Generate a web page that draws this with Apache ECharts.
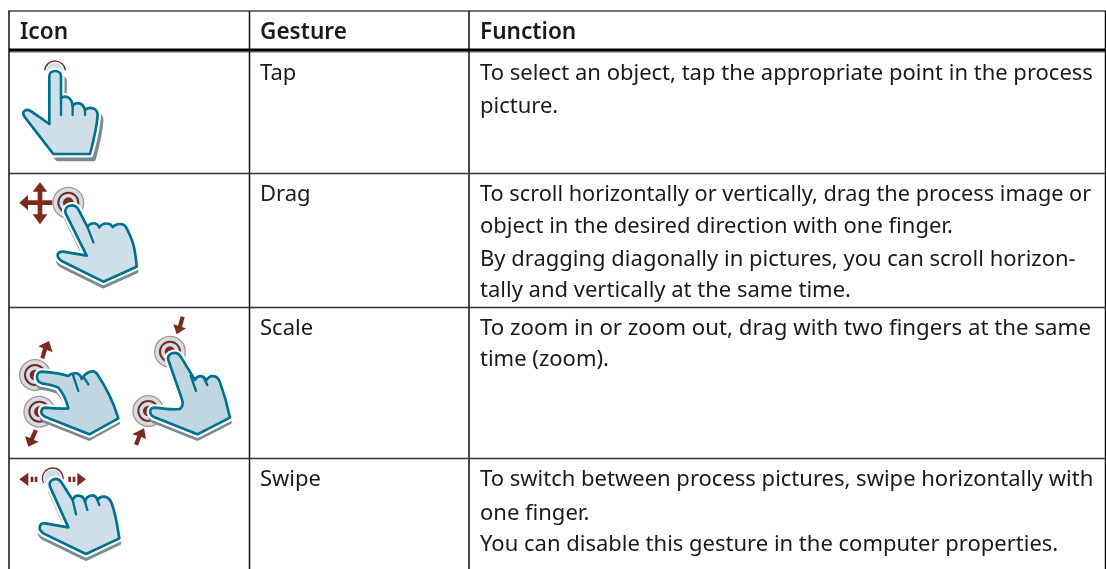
<!DOCTYPE html>
<html>
<head>
<meta charset="utf-8">
<style>
  html, body { margin: 0; padding: 0; background: #fff; }
  #chart { width: 1106px; height: 569px; }
</style>
<script src="https://cdn.jsdelivr.net/npm/echarts@6/dist/echarts.min.js"></script>
</head>
<body>
<div id="chart"></div>
<script>
// table content
var headers = ["Icon", "Gesture", "Function"];
var gestures = ["Tap", "Drag", "Scale", "Swipe"];
var tapLines = ["To select an object, tap the appropriate point in the process", "picture."];
var dragLines = [
  "To scroll horizontally or vertically, drag the process image or",
  "object in the desired direction with one finger.",
  "By dragging diagonally in pictures, you can scroll horizon-",
  "tally and vertically at the same time."
];
var scaleLines = ["To zoom in or zoom out, drag with two fingers at the same", "time (zoom)."];
var swipeLines = [
  "To switch between process pictures, swipe horizontally with",
  "one finger.",
  "You can disable this gesture in the computer properties."
];
var functionLines = [tapLines, dragLines, scaleLines, swipeLines];

// table layout, page pixels on the hidden axes
var colEdges = [9, 249.5, 469];
var rightEdge = 1106;
var tableTop = 11, headerRule = 50, bottomEdge = 569;
var rowRules = [173.5, 307.5, 458.5];
var textX = [20, 260, 480];
var headerY = 33;
var gestureY = [74, 195, 329, 480];
var functionY = [[74, 107], [195, 227, 260, 291], [329, 360], [480, 514, 545]];
// horizontal squeeze for the first lines of each row, the font is a bit off
var lineFit = [[1, 1], [0.987, 1, 1, 1], [1.012, 1], [1, 1, 1]];

var FONT = '"Noto Sans", sans-serif';
var TEXT_SIZE = 22, HEAD_SIZE = 22.6;
var INK = "#1a1a1a";

var BLUE = "#00708f", FILL = "#cfdfea", FILL2 = "#c0d7e2", RED = "#7b2a1e", SHADOW = "#7b8a91";

// icon outlines, traced at 3x from crop origin
var hand1 = "M148 372 L148 228 C148 208 183 208 183 228 L183 295 C195 285 215 290 218 318 C228 303 250 308 255 330 C270 318 293 325 293 345 C290 385 280 425 270 462 L160 462 L75 352 C62 335 78 322 95 335 Z";
var hand1Lines = "M183 295 L183 345 M218 318 L218 345 M255 330 L255 345";
var hand2 = "M260 272 L197 145 C190 122 222 112 235 133 L262 185 C272 172 290 170 298 187 C308 172 330 172 338 186 C350 175 372 172 380 190 C395 220 405 240 410 305 L310 350 L185 288 C165 275 172 258 190 260 Z";
var hand2Lines = "M262 185 L280 232";
var hand3a = "M125 200 C150 202 180 205 205 213 C215 203 240 198 245 222 C255 205 280 188 292 208 C320 250 340 290 355 340 L268 388 L135 335 C118 325 122 308 138 308 C160 310 185 312 205 310 C200 290 190 265 175 248 C160 240 140 238 125 235 C105 228 108 200 125 200 Z";
var hand3aLines = "M218 207 L235 258 M250 215 L265 238";
var hand3b = "M505 165 C498 145 530 135 542 155 L585 225 C592 210 612 208 618 228 C628 208 652 208 660 232 C672 265 682 300 690 338 L592 388 L460 335 C445 325 448 308 465 308 C490 310 520 315 540 312 C552 300 548 290 545 280 Z";
var hand3bLines = "M572 212 L588 258 M612 220 L622 240";
var hand4 = "M205 232 L150 110 C142 88 172 78 185 98 L218 150 C225 132 250 132 255 155 C262 130 288 132 292 150 C302 135 325 135 335 160 C348 195 352 230 358 265 L258 312 L130 250 C112 238 118 218 135 220 Z";
var hand4Lines = "M218 150 L228 193 M255 155 L262 180 M292 150 L298 165";

var crossArrow = "M120 52 L142 80 L127 80 L127 106 L157 106 L157 120 L127 120 L127 148 L142 148 L120 178 L98 148 L113 148 L113 120 L84 120 L84 136 L58 113 L84 90 L84 106 L113 106 L113 80 L98 80 Z";
var scaleArrows = "M147 108 L158 142 L141 135 L133 162 L121 158 L129 130 L115 124 Z"
  + " M85 425 L75 393 L90 399 L102 373 L113 378 L102 405 L116 410 Z"
  + " M530 88 L558 70 L546 66 L554 37 L542 34 L534 62 L520 58 Z"
  + " M432 370 L438 402 L424 396 L414 422 L402 417 L412 392 L396 388 Z";
var swipeArrows = "M58 88 L85 68 L85 108 Z M92 80 L100 80 L100 96 L92 96 Z M104 80 L112 80 L112 96 L104 96 Z"
  + " M258 88 L232 68 L232 108 Z M205 80 L213 80 L213 96 L205 96 Z M218 80 L226 80 L226 96 L218 96 Z";

function rings(cx, cy) {
  return [
    { type: "circle", shape: { cx: cx, cy: cy, r: 46 }, style: { fill: FILL, stroke: "#bb8f88", lineWidth: 4 } },
    { type: "circle", shape: { cx: cx, cy: cy, r: 30 }, style: { fill: FILL, stroke: RED, lineWidth: 6 } },
    { type: "circle", shape: { cx: cx, cy: cy, r: 16 }, style: { fill: RED } }
  ];
}

function hand(d, inner, fill, dx, dy) {
  return [
    { type: "path", shape: { pathData: d }, x: dx, y: dy, style: { fill: SHADOW, stroke: SHADOW, lineWidth: 11, lineJoin: "round" } },
    { type: "path", shape: { pathData: d }, style: { fill: "#fff", stroke: "#fff", lineWidth: 21, lineJoin: "round" } },
    { type: "path", shape: { pathData: d }, style: { fill: fill, stroke: BLUE, lineWidth: 8, lineJoin: "round" } },
    { type: "path", shape: { pathData: inner }, style: { fill: "none", stroke: BLUE, lineWidth: 7, lineCap: "round" } }
  ];
}

// crop origin and drawing per icon
var icons = [
  { y: 0, draw: function () {
    return [
      { type: "arc", shape: { cx: 165, cy: 214, r: 31, startAngle: Math.PI * 1.03, endAngle: Math.PI * 1.97 }, style: { fill: "none", stroke: RED, lineWidth: 4 } },
      { type: "circle", shape: { cx: 165, cy: 214, r: 25 }, style: { fill: FILL } }
    ].concat(hand(hand1, hand1Lines, FILL, 12, 16));
  } },
  { y: 165, draw: function () {
    return [{ type: "path", shape: { pathData: crossArrow }, style: { fill: RED } }]
      .concat(rings(205, 113), hand(hand2, hand2Lines, FILL, 0, 15));
  } },
  { y: 305, draw: function () {
    return [{ type: "path", shape: { pathData: scaleArrows }, style: { fill: RED } }]
      .concat(rings(105, 210), rings(118, 320), rings(510, 140), rings(445, 318),
        hand(hand3a, hand3aLines, FILL2, 0, 14), hand(hand3b, hand3bLines, FILL2, 0, 14));
  } },
  { y: 450, draw: function () {
    return [
      { type: "path", shape: { pathData: swipeArrows }, style: { fill: RED } },
      { type: "arc", shape: { cx: 158, cy: 85, r: 31, startAngle: Math.PI * 0.85, endAngle: Math.PI * 2.15 }, style: { fill: "none", stroke: RED, lineWidth: 4 } },
      { type: "circle", shape: { cx: 158, cy: 85, r: 26 }, style: { fill: FILL } }
    ].concat(hand(hand4, hand4Lines, FILL, 0, 15));
  } }
];

function textEl(api, str, x, y, size, weight, fit) {
  var p = api.coord([x, y]);
  return {
    type: "text", x: p[0], y: p[1], scaleX: fit || 1,
    style: { text: str, fill: INK, font: weight + " " + size + "px " + FONT, textAlign: "left", textVerticalAlign: "middle" }
  };
}

function lineEl(api, x1, y1, x2, y2, width, color) {
  var a = api.coord([x1, y1]), b = api.coord([x2, y2]);
  return { type: "line", shape: { x1: a[0], y1: a[1], x2: b[0], y2: b[1] }, style: { stroke: color, lineWidth: width } };
}

function renderRules(params, api) {
  var kids = [
    lineEl(api, colEdges[0] - 1, tableTop, rightEdge, tableTop, 1.5, "#444"),
    lineEl(api, colEdges[0], headerRule + 2, rightEdge, headerRule + 2, 1.5, "#999"),
    lineEl(api, colEdges[0], headerRule, rightEdge, headerRule, 3, "#000")
  ];
  colEdges.forEach(function (x) {
    kids.push(lineEl(api, x, tableTop, x, bottomEdge, 1.5, "#111"));
  });
  kids.push(lineEl(api, rightEdge - 0.5, tableTop, rightEdge - 0.5, bottomEdge, 1.5, "#111"));
  rowRules.forEach(function (y) {
    kids.push(lineEl(api, colEdges[0], y, rightEdge, y, 1.6, "#333"));
  });
  return { type: "group", children: kids };
}

function renderText(params, api) {
  var kids = headers.map(function (h, i) {
    return textEl(api, h, textX[i], headerY, HEAD_SIZE, 600);
  });
  gestures.forEach(function (g, i) {
    kids.push(textEl(api, g, textX[1], gestureY[i], TEXT_SIZE, 400));
    functionLines[i].forEach(function (line, j) {
      kids.push(textEl(api, line, textX[2], functionY[i][j], TEXT_SIZE, 400, lineFit[i][j]));
    });
  });
  return { type: "group", children: kids };
}

function renderIcon(params, api) {
  var icon = icons[params.dataIndex];
  var p = api.coord([0, icon.y]);
  return { type: "group", x: p[0], y: p[1], scaleX: 1 / 3, scaleY: 1 / 3, children: icon.draw() };
}

var chart = echarts.init(document.getElementById("chart"), null, { renderer: "canvas" });
chart.setOption({
  animation: false,
  backgroundColor: "#fff",
  grid: { left: 0, right: 0, top: 0, bottom: 0 },
  xAxis: { type: "value", min: 0, max: 1106, show: false },
  yAxis: { type: "value", min: 0, max: 569, inverse: true, show: false },
  tooltip: { show: false },
  series: [
    { type: "custom", silent: true, clip: false, data: [[0, 0]], renderItem: renderRules },
    { type: "custom", silent: true, clip: false, data: gestures.map(function (g, i) { return [0, i]; }), renderItem: renderIcon },
    { type: "custom", silent: true, clip: false, data: [[0, 0]], renderItem: renderText }
  ]
});
</script>
</body>
</html>
